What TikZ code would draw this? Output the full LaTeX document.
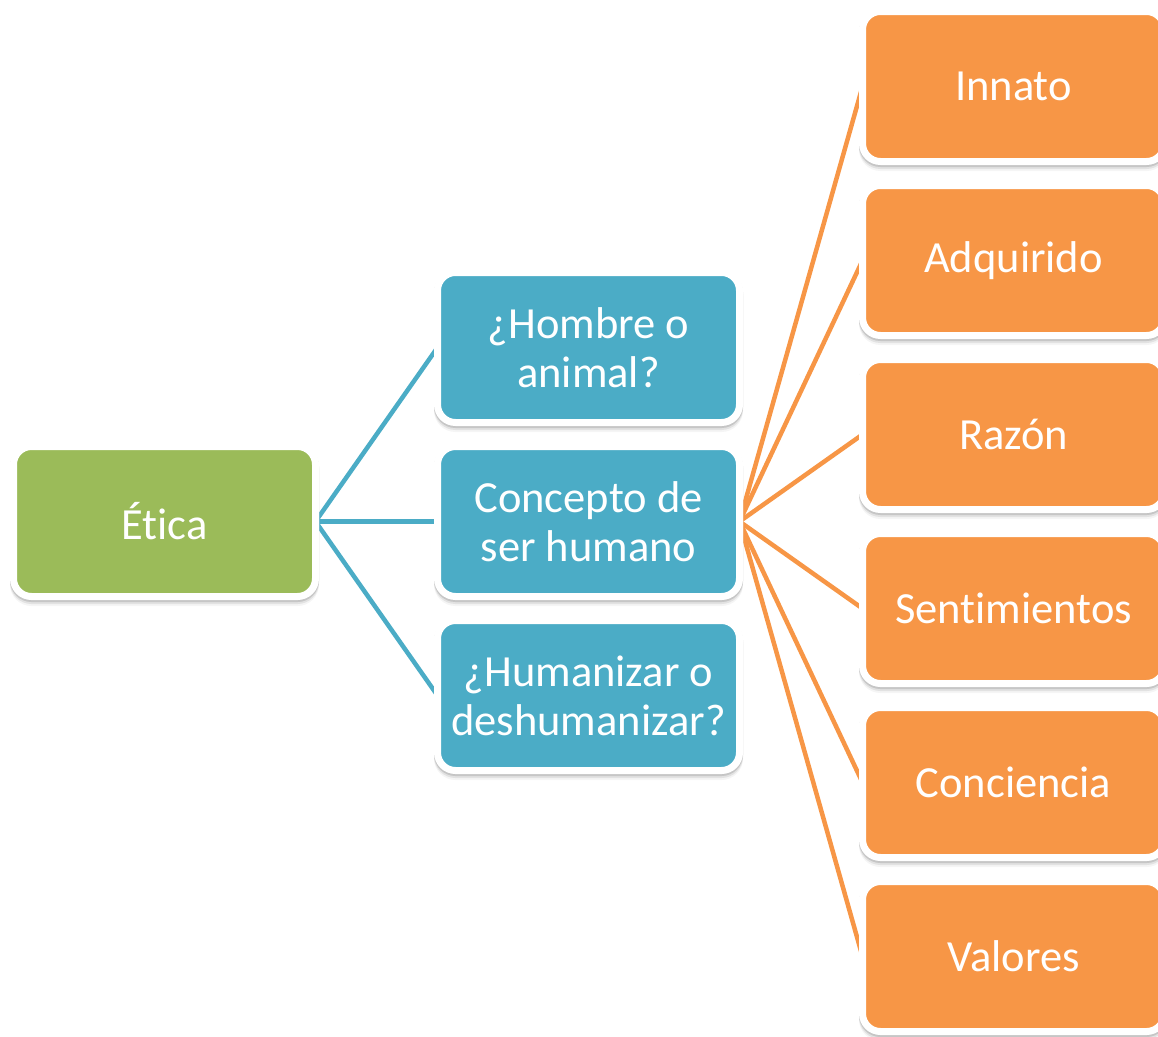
\documentclass[tikz,border=0pt]{standalone}
\usepackage{fontspec}
\setmainfont{Carlito}[Ligatures=NoCommon]
\usepackage{tikz}
\usetikzlibrary{shadows, backgrounds}
\definecolor{mygreen}{RGB}{155,187,89}
\definecolor{myblue}{RGB}{75,172,198}
\definecolor{myorange}{RGB}{247,150,70}
\tikzset{
  block/.style={rectangle, draw=white, line width=7pt, rounded corners=18pt,
    minimum width=302pt, minimum height=150pt, outer sep=0pt, align=center,
    text=white, font=\fontsize{44.5}{49}\selectfont,
    drop shadow={shadow xshift=0pt, shadow yshift=-6pt, fill=black!8, draw=black!8},
    drop shadow={shadow xshift=0pt, shadow yshift=-4pt, fill=black!18, draw=black!18},
    drop shadow={shadow xshift=0pt, shadow yshift=-2pt, fill=black!32, draw=black!32}},
  greenblock/.style={block, fill=mygreen},
  blueblock/.style={block, fill=myblue},
  orangeblock/.style={block, fill=myorange},
  blueline/.style={draw=myblue, line width=4.5pt},
  orangeline/.style={draw=myorange, line width=4.5pt}
}
\begin{document}
\begin{tikzpicture}[x=1pt, y=-1pt]
  \useasboundingbox (0,0) rectangle (1158,1036);
  \node[greenblock] (etica) at (164.5, 521.5) {Ética};

  \node[blueblock] (hombre) at (588.5, 347.5) {¿Hombre o\\animal?};
  \node[blueblock] (concepto) at (588.5, 521.5) {Concepto de\\ser humano};
  \node[blueblock] (humanizar) at (588.5, 695.5) {¿Humanizar o\\deshumanizar?};

  \node[orangeblock] (innato) at (1013.5, 86.5) {Innato};
  \node[orangeblock] (adquirido) at (1013.5, 260.5) {Adquirido};
  \node[orangeblock] (razon) at (1013.5, 434.5) {Razón};
  \node[orangeblock] (sentimientos) at (1013.5, 608.5) {Sentimientos};
  \node[orangeblock] (conciencia) at (1013.5, 782.5) {Conciencia};
  \node[orangeblock] (valores) at (1013.5, 956.5) {Valores};

  % Paths
  \begin{scope}[on background layer]
    \foreach \b in {hombre, concepto, humanizar}
      \draw[blueline] (etica.east) -- (\b.west);
    \foreach \o in {innato, adquirido, razon, sentimientos, conciencia, valores}
      \draw[orangeline] (concepto.east) -- (\o.west);
  \end{scope}
\end{tikzpicture}
\end{document}
